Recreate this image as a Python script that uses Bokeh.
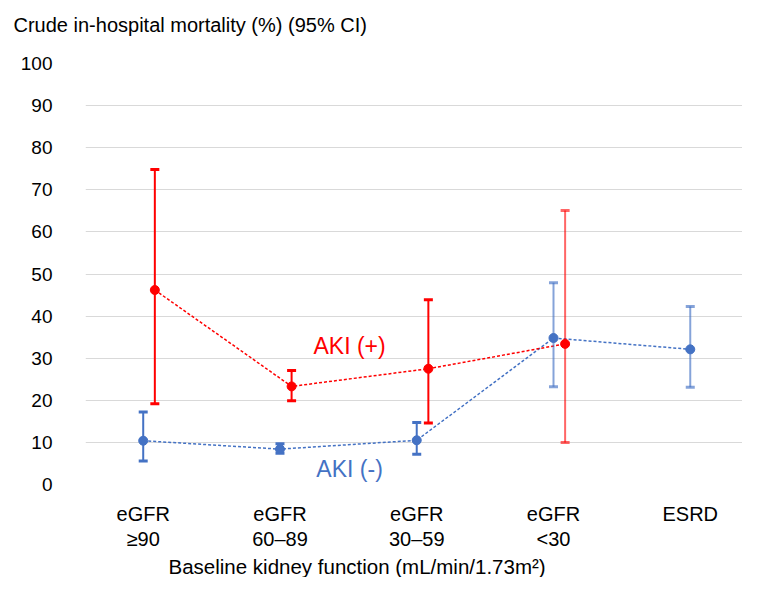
from bokeh.plotting import figure
from bokeh.models import FixedTicker, ColumnDataSource, Title, Range1d
from bokeh.core.properties import value
from bokeh.embed import file_html
from bokeh.resources import INLINE

# ---------------- data ----------------
categories = ["eGFR\n\u226590", "eGFR\n60\u201389", "eGFR\n30\u201359", "eGFR\n<30", "ESRD"]
aki_neg = [10.4, 8.4, 10.5, 34.8, 32.1]
aki_neg_lo = [5.6, 7.4, 7.2, 23.2, 23.1]
aki_neg_hi = [17.2, 9.7, 14.7, 47.9, 42.3]
aki_pos = [46.2, 23.3, 27.5, 33.4]
aki_pos_lo = [19.2, 19.9, 14.6, 10.0]
aki_pos_hi = [74.8, 27.1, 43.9, 65.1]
y_ticks = [0, 10, 20, 30, 40, 50, 60, 70, 80, 90, 100]
title_text = "Crude in-hospital mortality (%) (95% CI)"
xlabel_text = "Baseline kidney function (mL/min/1.73m\u00b2)"

# ---------------- styles ----------------
FONT = "Liberation Sans"
BLUE = "#4472C4"
RED = "#FF0000"
neg_alpha = [1.0, 1.0, 1.0, 0.65, 0.65]
pos_alpha = [1.0, 1.0, 1.0, 0.6]
dodge = 0.085

x_neg = [i + 1 for i in range(len(aki_neg))]
x_pos = [i + 1 + dodge for i in range(len(aki_pos))]

p = figure(width=742, height=577,
           x_range=Range1d(0.578, 5.382), y_range=Range1d(0, 100),
           output_backend="svg", toolbar_location=None, title_location=None,
           min_border_left=85, min_border_right=0,
           min_border_top=63, min_border_bottom=93)
p.outline_line_color = None
p.background_fill_color = "white"
p.border_fill_color = "white"

# spacer between the frame and the top title
spacer = Title(text="\u00a0", text_font=FONT, text_font_size="20px", standoff=0)
p.add_layout(spacer, "above")
# y-axis title written horizontally at top-left
ytitle = Title(text=title_text, text_font=FONT, text_font_size="20px",
               text_font_style="normal", text_color="#000000", align="left",
               offset=-72, standoff=8)
p.add_layout(ytitle, "above")

# x axis title below
xt = Title(text=xlabel_text, text_font=FONT, text_font_size="20.5px",
           text_font_style="normal", text_color="#000000", align="left",
           offset=83, standoff=0, text_line_height=1.0)
p.add_layout(xt, "below")

# grid
p.xgrid.visible = False
p.ygrid.ticker = FixedTicker(ticks=y_ticks)
p.ygrid.grid_line_color = "#D9D9D9"
p.ygrid.grid_line_width = 1

# y axis
p.yaxis.ticker = FixedTicker(ticks=y_ticks)
p.yaxis.axis_line_color = None
p.yaxis.major_tick_line_color = None
p.yaxis.major_tick_out = 0
p.yaxis.major_tick_in = 0
p.yaxis.minor_tick_line_color = None
p.yaxis.major_label_standoff = 33
p.yaxis.major_label_text_font = FONT
p.yaxis.major_label_text_font_size = "19px"
p.yaxis.major_label_text_color = "#000000"

# x axis
p.xaxis.ticker = FixedTicker(ticks=x_neg)
p.xaxis.major_label_overrides = {x: c for x, c in zip(x_neg, categories)}
p.xaxis.axis_line_color = None
p.xaxis.major_tick_line_color = None
p.xaxis.major_tick_out = 0
p.xaxis.major_tick_in = 0
p.xaxis.minor_tick_line_color = None
p.xaxis.major_label_standoff = 18
p.xaxis.major_label_text_font = FONT
p.xaxis.major_label_text_font_size = "20px"
p.xaxis.major_label_text_color = "#000000"
p.xaxis.major_label_text_line_height = 1.15

# connecting dashed lines
p.line(x_neg, aki_neg, line_color=BLUE, line_width=1.5, line_dash="3 2")
p.line(x_pos, aki_pos, line_color=RED, line_width=1.5, line_dash="3 2")

# error bars
src_neg = ColumnDataSource(dict(x=x_neg, y=aki_neg, lo=aki_neg_lo, hi=aki_neg_hi, a=neg_alpha))
src_pos = ColumnDataSource(dict(x=x_pos, y=aki_pos, lo=aki_pos_lo, hi=aki_pos_hi, a=pos_alpha))
for src, col in ((src_neg, BLUE), (src_pos, RED)):
    p.segment(x0="x", y0="lo", x1="x", y1="hi", source=src,
              line_color=col, line_width=2, line_alpha="a")
    p.scatter(x="x", y="hi", source=src, marker="dash", size=9,
              line_color=col, line_width=3, line_alpha="a")
    p.scatter(x="x", y="lo", source=src, marker="dash", size=9,
              line_color=col, line_width=3, line_alpha="a")
    p.scatter(x="x", y="y", source=src, marker="circle", size=9,
              fill_color=col, line_color=col)

# series labels
label_x = [2.509, 2.509]
label_y = [32.85, 3.6]
label_txt = ["AKI (+)", "AKI (-)"]
p.text(x=[label_x[0]], y=[label_y[0]], text=[label_txt[0]], text_color=RED,
       text_font=value(FONT), text_font_size="23px",
       text_align="center", text_baseline="middle")
p.text(x=[label_x[1]], y=[label_y[1]], text=[label_txt[1]], text_color=BLUE,
       text_font=value(FONT), text_font_size="23px",
       text_align="center", text_baseline="middle")

open("out.html", "w").write(file_html(p, INLINE))
